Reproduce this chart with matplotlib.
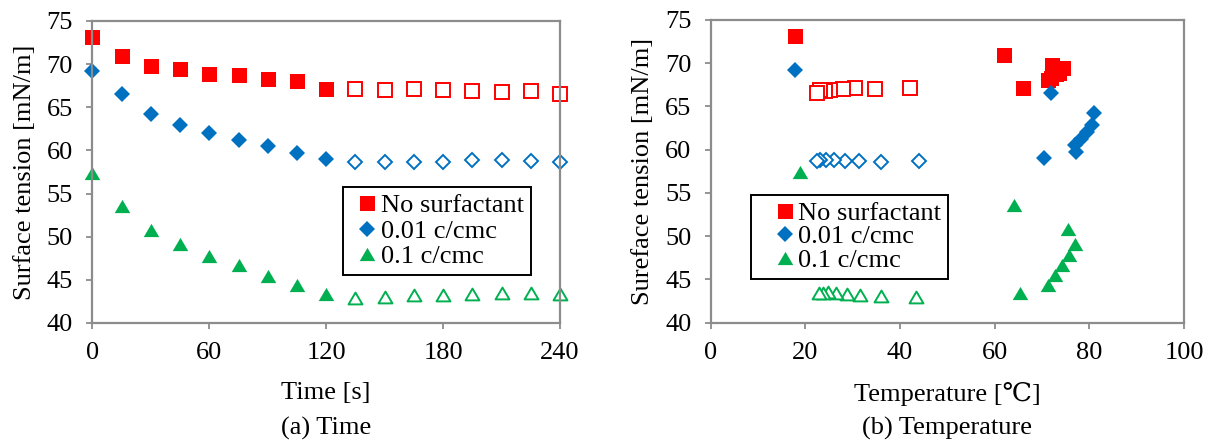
import matplotlib
matplotlib.use('Agg')
import matplotlib.pyplot as plt
from matplotlib.lines import Line2D
from matplotlib.path import Path
import numpy as np

plt.rcParams['font.family'] = ['Liberation Serif', 'DejaVu Serif']
plt.rcParams['font.size'] = 19

# time [s] for every measurement
time_s = [0, 15, 30, 45, 60, 75, 90, 105, 120,
          135, 150, 165, 180, 195, 210, 225, 240]

# surface tension [mN/m]
st_none = [73.1, 70.9, 69.8, 69.4, 68.9, 68.7, 68.3, 68.1, 67.1,
           67.1, 67.0, 67.1, 67.0, 66.9, 66.8, 66.9, 66.5]
st_001 = [69.2, 66.5, 64.2, 62.9, 62.0, 61.2, 60.5, 59.7, 59.0,
          58.7, 58.6, 58.65, 58.7, 58.85, 58.85, 58.8, 58.7]
st_01 = [57.4, 53.6, 50.8, 49.1, 47.8, 46.7, 45.5, 44.4, 43.4,
         42.95, 43.05, 43.2, 43.3, 43.4, 43.5, 43.45, 43.4]

# temperature [C] at each measurement
temp_none = [17.8, 61.9, 72.1, 74.5, 73.5, 73.0, 72.0, 71.3, 65.9,
             42.1, 34.7, 30.5, 27.9, 25.3, 24.1, 23.1, 22.5]
temp_001 = [17.8, 72.0, 81.0, 80.5, 79.5, 78.3, 77.0, 77.2, 70.4,
            44.1, 36.0, 31.3, 28.3, 26.1, 24.3, 23.1, 22.5]
temp_01 = [18.8, 64.1, 75.4, 77.0, 75.8, 74.3, 72.8, 71.3, 65.3,
           43.3, 36.0, 31.6, 28.7, 26.5, 24.7, 23.7, 22.9]

labels = ['No surfactant', '0.01 c/cmc', '0.1 c/cmc']
heat_end = 120  # filled markers while heating, hollow afterwards

# slightly flattened triangle, like the excel one
tri = Path([(0, 0.85), (-1, -0.85), (1, -0.85), (0, 0.85)], closed=True)
styles = [dict(color='#ff0000', marker='s', ms=10.8, ms_o=9.6),
          dict(color='#0070c0', marker='D', ms=8.4, ms_o=7.4),
          dict(color='#00b050', marker=tri, ms=11.2, ms_o=10.0)]

series = [(st_none, temp_none), (st_001, temp_001), (st_01, temp_01)]
t = np.array(time_s)
heat = t <= heat_end

fig = plt.figure(figsize=(12.12, 4.41), dpi=100)
ax1 = fig.add_axes([0.0763, 0.2676, 0.3857, 0.6848])
ax2 = fig.add_axes([0.5864, 0.2683, 0.3905, 0.6864])

grey = '#8c8c8c'
for ax in (ax1, ax2):
    for sp in ax.spines.values():
        sp.set_color(grey)
        sp.set_linewidth(1.6)
    ax.tick_params(direction='out', length=4, width=1.3, color=grey, pad=10)
    ax.set_ylim(40, 75)
    ax.set_yticks(range(40, 76, 5))

for (st, tc), s in zip(series, styles):
    st = np.array(st)
    tc = np.array(tc)
    for ax, x in ((ax1, t), (ax2, tc)):
        ax.plot(x[heat], st[heat], ls='none', marker=s['marker'], ms=s['ms'],
                mfc=s['color'], mec=s['color'], mew=0, clip_on=False)
        ax.plot(x[~heat], st[~heat], ls='none', marker=s['marker'], ms=s['ms_o'],
                mfc='white', mec=s['color'], mew=1.4, clip_on=False)

ax1.set_xlim(0, 240)
ax1.set_xticks(range(0, 241, 60))
ax1.set_xlabel('Time [s]', labelpad=13)
ax1.set_ylabel('Surface tension [mN/m]', labelpad=8)

ax2.set_xlim(0, 100)
ax2.set_xticks(range(0, 101, 20))
ax2.set_xlabel('Temperature [\u2103]', labelpad=13)
ax2.set_ylabel('Sureface tension [mN/m]', labelpad=8)

handles = [Line2D([], [], ls='none', marker=s['marker'], ms=s['ms'],
                  mfc=s['color'], mec=s['color'], mew=0) for s in styles]
legends = [(ax1, (0.536, 0.45), 1.3, -0.1, 0.08),
           (ax2, (0.085, 0.422), 2.1, -0.56, 0.0)]
for ax, anchor, hl, htp, ls in legends:
    leg = ax.legend(handles, labels, loc='upper left', bbox_to_anchor=anchor,
                    borderaxespad=0, fancybox=False, framealpha=1,
                    edgecolor='black', handlelength=hl, handletextpad=htp,
                    labelspacing=ls, borderpad=0.25, fontsize=19)
    leg.get_frame().set_linewidth(1.4)

fig.text(0.2692, 0.014, '(a) Time', ha='center', va='baseline', fontsize=19)
fig.text(0.7816, 0.014, '(b) Temperature', ha='center', va='baseline', fontsize=19)

fig.savefig('out.png', dpi=100, facecolor='white')
